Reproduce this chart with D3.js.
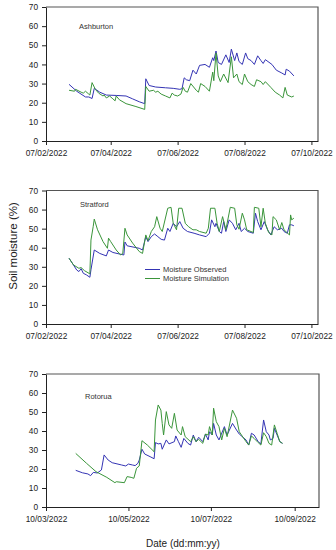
<!DOCTYPE html>
<html lang="en">
<head>
<meta charset="UTF-8">
<title>Soil moisture: observed vs simulation</title>
<script src="https://d3js.org/d3.v7.min.js"></script>
<style>
  body { margin: 0; background: #fff; }
  svg { display: block; font-family: "Liberation Sans", Arial, sans-serif; }
  .axis text { font-size: 8.3px; fill: #222; }
  .axis path, .axis line { stroke: #222; }
  .site { font-size: 7.5px; fill: #333; }
  .legend text { font-size: 7.5px; fill: #333; }
  .title { font-size: 10px; fill: #222; }
</style>
</head>
<body>
<svg id="chart" width="336" height="550"></svg>
<script>
// values (date, soil moisture %)
const yTicks = [0, 10, 20, 30, 40, 50, 60, 70];
const ticksFeb = ["2022-02-07", "2022-04-07", "2022-06-07", "2022-08-07", "2022-10-07"];
const ticksMar = ["2022-03-10", "2022-05-10", "2022-07-10", "2022-09-10"];

const ashburtonObserved = [
  ["2022-02-28",29.6],["2022-03-07",26],["2022-03-15",23],["2022-03-18",23],["2022-03-21",22.2],
  ["2022-03-23",27.5],["2022-03-28",25.5],["2022-04-03",24],["2022-04-12",23.8],["2022-04-21",23.5],
  ["2022-04-27",22],["2022-05-03",20.5],["2022-05-08",19.5],["2022-05-09",32.5],["2022-05-12",29],
  ["2022-05-18",28.2],["2022-05-27",27.8],["2022-06-03",27.5],["2022-06-09",27],["2022-06-11",27.3],
  ["2022-06-13",33],["2022-06-15",32],["2022-06-18",31.5],["2022-06-21",37],["2022-06-24",35],
  ["2022-06-27",39.5],["2022-07-02",40],["2022-07-06",38.5],["2022-07-09",43.5],["2022-07-10",42],
  ["2022-07-12",47],["2022-07-14",41],["2022-07-17",40],["2022-07-21",45],["2022-07-24",41],
  ["2022-07-26",48],["2022-07-29",42],["2022-07-31",46],["2022-08-02",41.5],["2022-08-05",40],
  ["2022-08-08",46],["2022-08-10",43],["2022-08-13",42],["2022-08-16",40],["2022-08-19",44.5],
  ["2022-08-22",42],["2022-08-24",40.5],["2022-08-26",42.5],["2022-09-01",40],["2022-09-05",37],
  ["2022-09-10",35.5],["2022-09-13",34.5],["2022-09-14",37.5],["2022-09-17",36.5],["2022-09-21",34]
];
const ashburtonSimulated = [
  ["2022-02-28",26.5],["2022-03-05",26],["2022-03-06",27],["2022-03-11",25.5],["2022-03-13",25],
  ["2022-03-15",26],["2022-03-18",24.5],["2022-03-19",24],["2022-03-21",30.5],["2022-03-24",27],
  ["2022-03-27",25],["2022-03-31",23.5],["2022-04-01",24],["2022-04-03",22.5],["2022-04-06",23.5],
  ["2022-04-09",22],["2022-04-11",21],["2022-04-12",23.5],["2022-04-15",21.5],["2022-04-21",19.5],
  ["2022-04-30",18],["2022-05-08",16.5],["2022-05-09",28.5],["2022-05-12",26],["2022-05-16",26.5],
  ["2022-05-18",25.5],["2022-05-20",26],["2022-05-23",24.5],["2022-05-27",23.5],["2022-05-31",22.5],
  ["2022-06-02",25],["2022-06-04",24],["2022-06-07",23.5],["2022-06-10",24.5],["2022-06-12",28],
  ["2022-06-14",26],["2022-06-16",25.5],["2022-06-19",30],["2022-06-24",26.5],["2022-06-26",25.5],
  ["2022-06-28",30],["2022-07-02",28.5],["2022-07-06",26],["2022-07-09",36],["2022-07-10",31.5],
  ["2022-07-12",46],["2022-07-14",34],["2022-07-16",31],["2022-07-19",35],["2022-07-23",30.5],
  ["2022-07-26",44],["2022-07-28",33],["2022-07-31",35],["2022-08-02",31],["2022-08-05",29.5],
  ["2022-08-07",35],["2022-08-10",31],["2022-08-13",29.5],["2022-08-16",28.5],["2022-08-18",32],
  ["2022-08-22",31],["2022-08-24",29.5],["2022-08-26",31],["2022-08-31",28],["2022-09-04",25.5],
  ["2022-09-08",24],["2022-09-11",22.5],["2022-09-13",28],["2022-09-15",24],["2022-09-19",23],
  ["2022-09-21",23.5]
];

const stratfordObserved = [
  ["2022-02-28",34.5],["2022-03-04",31],["2022-03-07",28.3],["2022-03-09",27.5],["2022-03-11",29],
  ["2022-03-13",26.6],["2022-03-16",25.7],["2022-03-19",24.5],["2022-03-20",28.4],["2022-03-23",38.8],
  ["2022-03-28",37],["2022-04-03",35.7],["2022-04-05",38.8],["2022-04-09",37.5],["2022-04-15",36.7],
  ["2022-04-19",36.2],["2022-04-20",43],["2022-04-22",41],["2022-05-03",39.7],["2022-05-06",38.8],
  ["2022-05-09",45.8],["2022-05-11",43.2],["2022-05-14",45.8],["2022-05-17",47.2],["2022-05-20",45.8],
  ["2022-05-23",44.4],["2022-05-26",44],["2022-05-29",50.2],["2022-05-31",48.5],["2022-06-03",52.8],
  ["2022-06-06",51],["2022-06-09",53.7],["2022-06-12",50.2],["2022-06-16",48.5],["2022-06-22",47.6],
  ["2022-06-27",46.7],["2022-07-03",45.8],["2022-07-06",47.6],["2022-07-08",54.6],["2022-07-11",51],
  ["2022-07-12",52.8],["2022-07-15",48.5],["2022-07-17",47.6],["2022-07-19",53.7],["2022-07-21",48.5],
  ["2022-07-24",54.6],["2022-07-27",52.8],["2022-07-30",49.4],["2022-08-02",52.8],["2022-08-04",48.5],
  ["2022-08-07",50.2],["2022-08-10",48.5],["2022-08-15",47.6],["2022-08-17",58.1],["2022-08-19",53.7],
  ["2022-08-22",49.4],["2022-08-25",53.7],["2022-08-28",49.4],["2022-08-31",46.7],["2022-09-03",51],
  ["2022-09-06",49.4],["2022-09-10",50.2],["2022-09-12",48.5],["2022-09-15",47.6],["2022-09-17",52],
  ["2022-09-19",52],["2022-09-21",51.5]
];
const stratfordSimulated = [
  ["2022-02-28",34.5],["2022-03-04",31],["2022-03-09",29.2],["2022-03-11",29.6],["2022-03-14",28],
  ["2022-03-19",26.3],["2022-03-20",44],["2022-03-22",51],["2022-03-23",55],["2022-03-26",49.4],
  ["2022-03-31",43.2],["2022-04-04",39.7],["2022-04-05",45],["2022-04-07",43.2],["2022-04-12",38.8],
  ["2022-04-16",36.2],["2022-04-18",37],["2022-04-20",50.2],["2022-04-22",46.7],["2022-04-27",42.4],
  ["2022-05-03",38],["2022-05-06",37],["2022-05-09",46.7],["2022-05-11",43.7],["2022-05-14",48.5],
  ["2022-05-17",51],["2022-05-19",56.3],["2022-05-22",50.2],["2022-05-24",48.5],["2022-05-29",60.7],
  ["2022-06-01",61.2],["2022-06-03",52.8],["2022-06-06",49.4],["2022-06-08",60.7],["2022-06-11",60.7],
  ["2022-06-14",52.8],["2022-06-17",51],["2022-06-21",49.4],["2022-06-24",49.4],["2022-06-27",48.5],
  ["2022-07-03",47.6],["2022-07-05",50.2],["2022-07-07",60.7],["2022-07-11",60.7],["2022-07-13",52.8],
  ["2022-07-15",48.5],["2022-07-18",56.3],["2022-07-21",49.4],["2022-07-25",61.2],["2022-07-29",60.7],
  ["2022-07-31",52],["2022-08-02",49.7],["2022-08-05",58.1],["2022-08-07",54.6],["2022-08-09",49.4],
  ["2022-08-15",48],["2022-08-16",61.2],["2022-08-20",60.7],["2022-08-22",51],["2022-08-24",60.7],
  ["2022-08-26",52.8],["2022-08-29",48],["2022-09-01",46.7],["2022-09-02",56.3],["2022-09-05",54.6],
  ["2022-09-08",49.4],["2022-09-10",53.2],["2022-09-12",49.4],["2022-09-17",46.7],["2022-09-18",57.2],
  ["2022-09-19",54.6],["2022-09-21",55.5]
];

const rotoruaObserved = [
  ["2022-04-01",19.3],["2022-04-06",18],["2022-04-10",17.4],["2022-04-12",16.5],["2022-04-14",18.2],
  ["2022-04-17",17.9],["2022-04-20",19.5],["2022-04-22",27.4],["2022-04-25",24.7],["2022-04-28",23.3],
  ["2022-05-05",22.1],["2022-05-08",21.6],["2022-05-10",22.6],["2022-05-13",22.1],["2022-05-15",21.8],
  ["2022-05-17",23],["2022-05-18",24.7],["2022-05-20",30.4],["2022-05-22",27.9],["2022-05-26",26.5],
  ["2022-05-29",25.4],["2022-05-30",33.9],["2022-06-01",33.2],["2022-06-03",33.5],["2022-06-04",30.4],
  ["2022-06-07",35.3],["2022-06-09",33.2],["2022-06-13",34.4],["2022-06-14",37.4],["2022-06-16",34.4],
  ["2022-06-18",31.4],["2022-06-20",36.1],["2022-06-23",33.5],["2022-06-25",32.6],["2022-06-27",37.9],
  ["2022-06-29",34.4],["2022-07-01",36.7],["2022-07-04",34.4],["2022-07-06",38.4],["2022-07-08",35.3],
  ["2022-07-09",39.6],["2022-07-11",37.9],["2022-07-12",44],["2022-07-14",37.9],["2022-07-16",35.3],
  ["2022-07-20",42.3],["2022-07-22",37.9],["2022-07-26",44],["2022-07-29",40.5],["2022-07-31",38.4],
  ["2022-08-05",35.3],["2022-08-07",32.6],["2022-08-09",38.8],["2022-08-11",37.9],["2022-08-14",34.4],
  ["2022-08-16",33.2],["2022-08-18",45.8],["2022-08-20",39.6],["2022-08-22",37.9],["2022-08-23",35.3],
  ["2022-08-25",36.1],["2022-08-26",41.4],["2022-08-28",37.9],["2022-08-30",34.4],["2022-09-01",33.5]
];
const rotoruaSimulated = [
  ["2022-04-01",28.2],["2022-04-09",23],["2022-04-16",18.6],["2022-04-24",15.6],["2022-04-30",12.8],
  ["2022-05-01",13.3],["2022-05-07",12.8],["2022-05-09",16],["2022-05-12",15.6],["2022-05-14",15.1],
  ["2022-05-16",20.4],["2022-05-18",21.6],["2022-05-20",34.9],["2022-05-24",32.6],["2022-05-29",29.1],
  ["2022-05-30",45.8],["2022-06-01",53.7],["2022-06-03",51],["2022-06-04",44],["2022-06-05",37.9],
  ["2022-06-07",50.2],["2022-06-09",43.2],["2022-06-11",41.4],["2022-06-13",49.3],["2022-06-15",40.5],
  ["2022-06-18",37.9],["2022-06-19",42.3],["2022-06-21",37],["2022-06-25",34.4],["2022-06-27",37],
  ["2022-06-29",34.4],["2022-07-01",35.6],["2022-07-04",33.5],["2022-07-06",38.4],["2022-07-08",37.9],
  ["2022-07-09",42.3],["2022-07-11",37.9],["2022-07-12",52],["2022-07-14",44.9],["2022-07-16",42.3],
  ["2022-07-18",35.3],["2022-07-20",41.4],["2022-07-22",37],["2022-07-26",51],["2022-07-29",46.7],
  ["2022-07-31",39.6],["2022-08-05",34.4],["2022-08-07",32.6],["2022-08-09",37.4],["2022-08-11",36.1],
  ["2022-08-14",33.9],["2022-08-16",32.6],["2022-08-18",39.1],["2022-08-20",37],["2022-08-22",33.5],
  ["2022-08-24",32.6],["2022-08-26",43.2],["2022-08-28",38.8],["2022-08-30",34.4],["2022-09-01",33.5]
];

const OBS_COLOR = "#3434b4";
const SIM_COLOR = "#3a953a";
const LEFT = 46;

const parse = d3.timeParse("%Y-%m-%d");
const fmt = d3.timeFormat("%d/%m/%Y");

// layout of the three stacked panels
const panels = [
  { site: "Ashburton", obs: ashburtonObserved, sim: ashburtonSimulated, ticks: ticksFeb,
    domain: ["2022-02-07", "2022-10-13"], top: 7, bottom: 141, right: 318, labelX: 79, labelY: 28.5 },
  { site: "Stratford", obs: stratfordObserved, sim: stratfordSimulated, ticks: ticksFeb,
    domain: ["2022-02-07", "2022-10-13"], top: 190.5, bottom: 324, right: 318, labelX: 80, labelY: 206.5 },
  { site: "Rotorua", obs: rotoruaObserved, sim: rotoruaSimulated, ticks: ticksMar,
    domain: ["2022-03-10", "2022-09-28"], top: 374, bottom: 507, right: 319, labelX: 85, labelY: 398.5 }
];

const svg = d3.select("#chart");

panels.forEach((p, i) => {
  const x = d3.scaleTime().domain(p.domain.map(parse)).range([LEFT, p.right]);
  const y = d3.scaleLinear().domain([0, 70]).range([p.bottom, p.top]);
  const g = svg.append("g");

  // frame (top + right edges)
  g.append("path")
    .attr("d", `M${LEFT},${p.top}H${p.right}V${p.bottom}`)
    .attr("fill", "none")
    .attr("stroke", "#555")
    .attr("stroke-width", 1.2);

  g.append("g")
    .attr("class", "axis")
    .attr("transform", `translate(0,${p.bottom})`)
    .call(d3.axisBottom(x).tickValues(p.ticks.map(parse)).tickFormat(fmt)
      .tickSize(4).tickSizeOuter(0).tickPadding(5));

  g.append("g")
    .attr("class", "axis")
    .attr("transform", `translate(${LEFT},0)`)
    .call(d3.axisLeft(y).tickValues(yTicks).tickSize(4).tickSizeOuter(0).tickPadding(4));

  const line = d3.line()
    .x(d => x(parse(d[0])))
    .y(d => y(d[1]));

  g.append("path").datum(p.obs)
    .attr("d", line).attr("fill", "none")
    .attr("stroke", OBS_COLOR).attr("stroke-width", 1);

  g.append("path").datum(p.sim)
    .attr("d", line).attr("fill", "none")
    .attr("stroke", SIM_COLOR).attr("stroke-width", 1);

  g.append("text").attr("class", "site")
    .attr("x", p.labelX).attr("y", p.labelY)
    .text(p.site);

  if (i === 1) {
    const lg = g.append("g").attr("class", "legend");
    const items = [["Moisture Observed", OBS_COLOR], ["Moisture Simulation", SIM_COLOR]];
    items.forEach((it, k) => {
      const ly = 269.5 + k * 9;
      lg.append("line").attr("x1", 145).attr("x2", 160).attr("y1", ly).attr("y2", ly)
        .attr("stroke", it[1]).attr("stroke-width", 1);
      lg.append("text").attr("x", 163).attr("y", ly + 2.6).text(it[0]);
    });
  }
});

svg.append("text").attr("class", "title")
  .attr("transform", "translate(16.5,246) rotate(-90)")
  .attr("text-anchor", "middle")
  .style("font-size", "11.5px")
  .text("Soil moisture (%)");

svg.append("text").attr("class", "title")
  .attr("x", 183).attr("y", 546.5)
  .attr("text-anchor", "middle")
  .text("Date (dd:mm:yy)");
</script>
</body>
</html>
